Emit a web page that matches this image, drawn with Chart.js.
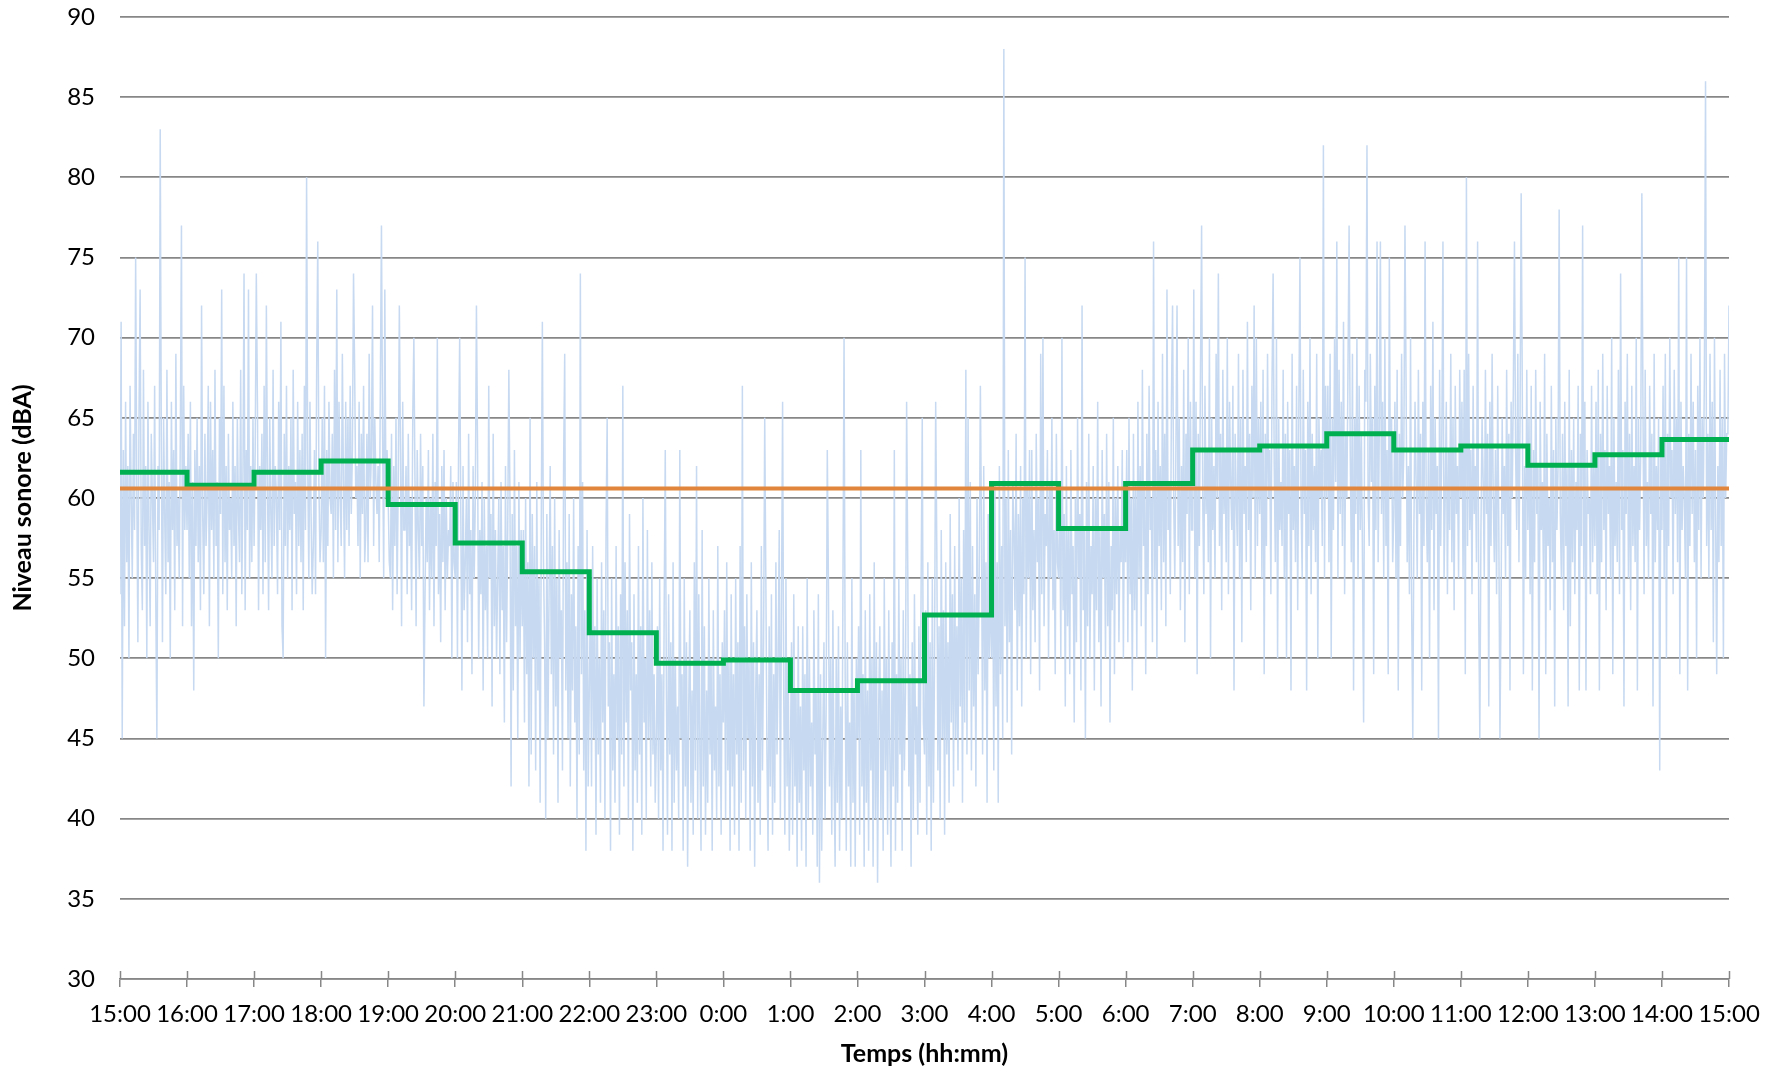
<!DOCTYPE html>
<html>
<head>
<meta charset="utf-8">
<script src="https://cdn.jsdelivr.net/npm/chart.js@4/dist/chart.umd.min.js"></script>
<style>
html,body{margin:0;padding:0;background:#fff;}
canvas{display:block;}
</style>
</head>
<body>
<canvas id="c" width="1782" height="1071"></canvas>
<script>
// x tick labels (one per hour, 15:00 -> 15:00)
const hourLabels = ['15:00','16:00','17:00','18:00','19:00','20:00','21:00','22:00','23:00','0:00','1:00','2:00','3:00','4:00','5:00','6:00','7:00','8:00','9:00','10:00','11:00','12:00','13:00','14:00','15:00'];

// hourly Leq (green steps), one value per hour starting 15:00
const hourlyLeq = [61.6,60.8,61.6,62.3,59.6,57.2,55.4,51.6,49.7,49.9,48.0,48.6,52.7,60.9,58.1,60.9,63.0,63.25,64.0,63.0,63.25,62.05,62.7,63.65];

// overall Leq (orange line)
const overallLeq = 60.6;

// sound level, one value per minute, one array per hour
const L15 = [54,71,45,63,52,66,56,62,50,67, 60,55,64,58,75,61,51,65,73,57, 53,68,57,62,50,66,58,52,64,60, 56,67,54,45,62,58,83,63,51,65, 59,54,68,56,61,50,66,58,63,53, 69,57,60,55,64,77,52,67,58,62];
const L16 = [58,64,55,66,52,61,48,63,57,65, 56,62,53,72,59,54,64,57,60,67, 52,66,58,63,55,68,57,61,50,65, 59,73,54,67,56,62,53,64,58,60, 55,66,57,62,52,65,59,56,68,54, 61,74,53,63,58,73,55,62,56,65];
const L17 = [57,63,74,66,53,62,58,64,54,67, 56,72,61,53,65,59,55,68,57,62, 60,54,66,58,71,52,50,64,57,67, 55,62,58,65,53,68,59,61,54,66, 57,63,56,64,53,67,58,80,62,55, 66,59,54,57,63,54,68,76,61,56];
const L18 = [58,65,56,67,50,63,57,66,60,59, 64,55,68,58,73,56,66,60,57,69, 61,55,66,58,65,57,67,59,63,74, 68,60,62,57,66,55,64,59,67,56, 58,64,56,69,60,63,72,57,65,61, 59,62,56,67,77,64,55,73,60,63];
const L19 = [60,56,55,64,53,62,57,65,54,61, 72,63,52,66,58,58,62,54,64,57, 60,53,65,70,61,52,63,58,55,64, 57,62,47,54,60,56,63,53,60,55, 64,52,61,57,70,54,59,51,62,56, 63,53,60,55,58,57,62,50,61,56];
const L20 = [55,61,50,63,70,59,48,62,53,56, 60,51,64,54,58,49,62,55,60,72, 63,50,58,54,61,48,60,53,57,50, 67,55,59,47,64,52,58,50,55,60, 49,61,53,57,46,62,51,58,68,60, 42,59,48,63,52,57,45,61,50,58];
const L21 = [52,58,46,60,49,56,42,65,44,59, 50,57,43,61,48,55,41,58,71,56, 51,40,59,45,54,62,49,57,44,60, 47,55,41,58,50,53,43,62,69,48, 56,45,59,42,54,48,60,46,52,40, 57,44,74,49,61,43,53,38,58,42];
const L22 = [48,54,42,57,45,52,39,55,44,50, 41,56,46,53,40,58,65,47,51,38, 55,43,49,41,57,45,52,39,54,44, 67,42,56,46,53,40,59,48,51,38, 54,43,49,41,57,44,52,39,60,46, 50,40,58,45,53,42,56,44,49,41];
const L23 = [45,52,40,55,43,49,38,53,63,48, 39,54,44,51,38,56,41,50,43,47, 40,63,45,49,38,55,42,51,37,47, 53,41,48,39,56,43,62,40,54,44, 38,58,42,52,39,48,41,55,44,50, 38,53,43,47,40,57,42,49,39,51];
const L00 = [46,53,40,56,43,50,38,54,42,49, 39,55,44,51,38,57,41,67,43,52, 40,54,45,50,38,56,42,51,37,48, 53,41,49,39,57,43,51,65,55,44, 38,52,42,54,39,49,41,56,44,50, 58,40,53,66,48,39,55,42,50,38];
const L01 = [44,51,39,54,42,48,37,52,41,47, 38,52,43,49,37,55,40,50,42,46, 39,53,44,48,37,54,36,49,38,45, 51,40,47,63,55,42,50,39,53,43, 37,50,41,52,38,47,40,54,70,49, 38,51,42,46,37,55,41,48,37,50];
const L02 = [45,52,39,63,42,49,37,53,41,48, 38,54,43,50,37,56,40,51,36,47, 52,40,48,38,55,43,50,39,53,44, 37,51,42,63,38,49,41,55,44,50, 38,53,43,48,66,56,42,49,37,51, 40,54,44,47,39,52,41,55,65,46];
const L03 = [44,53,39,56,42,51,38,55,41,50, 66,57,43,52,40,58,45,53,39,56, 44,51,41,59,46,54,42,57,45,52, 43,60,47,55,41,58,46,68,44,65, 48,61,43,57,47,54,42,60,49,55, 67,58,44,62,48,56,41,59,50,55];
const L04 = [50,58,43,61,47,56,41,62,49,57, 45,88,52,60,46,63,51,58,44,61, 58,53,64,48,59,52,62,47,60,54, 75,50,61,55,63,49,63,53,58,51, 64,56,60,48,69,54,70,52,59,57, 63,50,61,55,65,53,58,49,64,56];
const L05 = [55,61,50,70,53,59,47,62,52,58, 49,63,54,57,46,60,51,65,55,59, 48,72,53,58,45,61,52,64,50,57, 54,62,48,60,53,66,51,58,47,63, 55,59,50,64,52,61,46,57,53,65, 49,60,54,62,51,58,56,63,50,61];
const L06 = [56,63,51,65,54,60,48,64,53,61, 50,66,55,62,52,68,57,61,49,64, 54,67,58,60,51,76,55,63,50,66, 57,62,53,69,56,64,52,73,58,61, 54,66,72,60,55,63,72,57,65,53, 62,56,68,51,64,59,70,54,66,58];
const L07 = [58,73,55,66,49,64,57,68,77,60, 54,67,59,63,56,70,50,65,58,62, 55,69,60,74,57,64,53,68,59,63, 56,70,54,66,61,58,67,48,64,60, 57,69,55,65,51,68,59,62,56,71, 58,64,53,67,60,72,55,70,57,65];
const L08 = [59,66,55,68,49,64,57,69,60,63, 54,67,74,62,56,70,50,65,58,61, 57,68,55,64,50,66,59,63,48,69, 58,62,56,67,53,65,75,60,55,68, 59,63,48,66,57,70,54,64,58,62, 56,69,50,65,60,63,57,82,55,67];
const L09 = [60,67,56,69,50,65,58,70,61,76, 55,68,59,66,57,71,54,64,60,68, 77,63,56,69,48,65,59,70,55,67, 58,64,56,46,68,66,82,60,57,69, 61,65,49,67,58,76,56,64,76,59, 66,55,70,57,63,49,75,60,65,56];
const L10 = [59,66,55,68,48,64,57,69,60,63, 77,67,56,62,54,70,53,45,58,66, 61,55,68,59,64,48,66,57,76,60, 56,63,50,67,58,71,53,65,59,62, 45,68,57,64,76,55,60,66,54,63, 58,69,56,65,53,67,59,62,55,68];
const L11 = [60,66,55,68,49,80,57,69,58,63, 54,67,59,62,56,76,53,45,58,65, 61,55,68,59,64,47,66,57,69,60, 56,63,54,67,58,45,53,65,59,62, 55,68,57,64,48,66,60,67,76,63, 58,69,56,65,79,67,49,62,55,68];
const L12 = [58,65,54,67,48,63,56,68,59,62, 45,66,58,61,55,69,49,64,57,60, 53,67,56,63,47,65,58,62,78,59, 55,64,53,66,57,62,47,68,52,63, 56,65,54,61,58,67,48,64,57,77, 55,66,48,63,59,60,54,67,56,62];
const L13 = [57,66,54,68,48,64,56,69,58,63, 53,67,59,62,55,70,49,65,57,61, 56,68,54,74,58,63,47,66,59,69, 55,64,53,67,57,62,56,70,48,65, 58,63,79,66,54,68,57,61,55,67, 59,64,47,69,56,62,58,65,43,63];
const L14 = [58,67,55,69,50,64,57,70,60,63, 54,68,59,65,56,75,49,66,58,62, 60,55,75,48,64,57,69,59,66,56, 63,50,67,58,70,55,65,60,68,86, 57,64,55,69,58,66,51,70,59,49, 62,56,68,57,65,50,69,60,64,64, 72];

const levelRows = [L15,L16,L17,L18,L19,L20,L21,L22,L23,L00,L01,L02,L03,L04,L05,L06,L07,L08,L09,L10,L11,L12,L13,L14];

const FONT = 'Lato, "Open Sans", sans-serif';
const GRID = '#878787';

const levelPts = [];
levelRows.forEach((row, h) => row.forEach((v, j) => levelPts.push({x: h * 60 + j, y: v})));

const leqPts = hourlyLeq.map((v, h) => ({x: h * 60, y: v}));
leqPts.push({x: 24 * 60, y: hourlyLeq[hourlyLeq.length - 1]});

const overallPts = [{x: 0, y: overallLeq}, {x: 24 * 60, y: overallLeq}];

const crossTicks = {
  id: 'crossTicks',
  afterDraw(chart) {
    const s = chart.scales.x;
    const ctx = chart.ctx;
    ctx.save();
    ctx.strokeStyle = GRID;
    ctx.lineWidth = 1.5;
    s.ticks.forEach(t => {
      const px = Math.round(s.getPixelForValue(t.value)) + 0.5;
      ctx.beginPath();
      ctx.moveTo(px, s.top - 8);
      ctx.lineTo(px, s.top);
      ctx.stroke();
    });
    ctx.restore();
  }
};

new Chart(document.getElementById('c'), {
  type: 'line',
  data: {
    datasets: [
      {data: levelPts, borderColor: '#c6d9f1', borderWidth: 1.5, pointRadius: 0, tension: 0, order: 3},
      {data: leqPts, borderColor: '#00b050', borderWidth: 5, pointRadius: 0, stepped: true, order: 2},
      {data: overallPts, borderColor: '#e0853b', borderWidth: 4, pointRadius: 0, order: 1}
    ]
  },
  options: {
    responsive: false,
    animation: false,
    events: [],
    layout: {padding: {left: 0, right: 53, top: 17, bottom: 0}},
    plugins: {legend: {display: false}, tooltip: {enabled: false}},
    scales: {
      x: {
        type: 'linear',
        min: 0,
        max: 1440,
        afterFit: s => { s.height = 92; },
        afterBuildTicks: s => { s.ticks = hourLabels.map((_, i) => ({value: i * 60})); },
        ticks: {
          autoSkip: false,
          maxRotation: 0,
          padding: 13,
          color: '#000',
          font: {family: FONT, size: 24},
          callback: (v) => hourLabels[Math.round(v / 60)]
        },
        grid: {drawOnChartArea: false, drawTicks: true, tickLength: 8, color: GRID, lineWidth: 1.5},
        border: {display: true, color: GRID, width: 1.5},
        title: {display: true, text: 'Temps (hh:mm)', color: '#000', font: {family: FONT, size: 25, weight: 'bold'}, padding: {top: 0, bottom: 2}}
      },
      y: {
        min: 30,
        max: 90,
        afterFit: s => { s.width = 120; s.paddingTop = 0; s.paddingBottom = 0; },
        ticks: {stepSize: 5, padding: 25, color: '#000', font: {family: FONT, size: 24}},
        grid: {color: GRID, lineWidth: 1.75, drawTicks: false},
        border: {display: false},
        title: {display: true, text: 'Niveau sonore (dBA)', color: '#000', font: {family: FONT, size: 25, weight: 'bold'}, padding: {top: 8, bottom: 0}}
      }
    }
  },
  plugins: [crossTicks]
});
</script>
</body>
</html>
